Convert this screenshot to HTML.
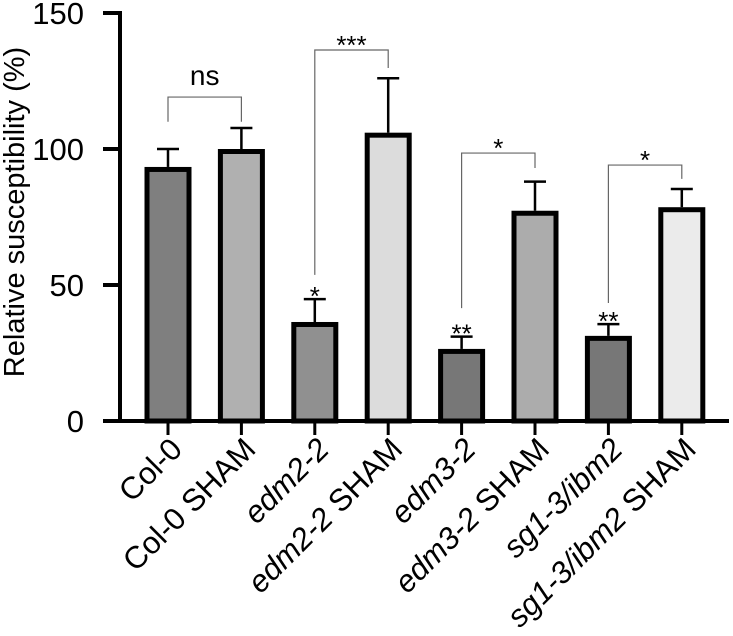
<!DOCTYPE html>
<html><head><meta charset="utf-8"><style>
html,body{margin:0;padding:0;background:#fff;}
svg{display:block;font-family:"Liberation Sans",Arial,sans-serif;}
</style></head><body>
<svg id="chart" width="733" height="636" viewBox="0 0 733 636">
<g id="plot"></g>
</svg>
<script>
const categories = ["Col-0","Col-0 SHAM","edm2-2","edm2-2 SHAM","edm3-2","edm3-2 SHAM","sg1-3/ibm2","sg1-3/ibm2 SHAM"];
const italicCats = [false,false,true,true,true,true,true,true];
const means = [93.4,100,36.4,106,26.5,77.3,31.3,78.6];
const errors = [6.6,7.7,8.4,20,4.5,10.7,4.3,6.7];
const fills = ["#7f7f7f","#b0b0b0","#909090","#dcdcdc","#777777","#acacac","#777777","#ebebeb"];
const yTicks = [0,50,100,150];
const barStars = [null,null,"*",null,"**",null,"**",null];
const bracketPairs = [[0,1],[2,3],[4,5],[6,7]];
const bracketLabels = ["ns","***","*","*"];
const bracketTops = [119.1,136.4,98.5,94.1];
const bracketLeftEnds = [110,53.7,41.5,43.4];
const bracketRightEnds = [110,129.8,93,89];

const NS="http://www.w3.org/2000/svg";
const g=document.getElementById('plot');
const y0=421, pxPerUnit=136/50;
const yS=v=>y0-v*pxPerUnit;
const xS=i=>168+73.4*i;
function mk(t,attrs,parent){const e=document.createElementNS(NS,t);for(const k in attrs)e.setAttribute(k,attrs[k]);(parent||g).appendChild(e);return e;}

means.forEach((m,i)=>{
  const cx=xS(i), w=42;
  const eb=mk('line',{x1:cx,x2:cx,y1:yS(m),y2:yS(m+errors[i]),stroke:'#000','stroke-width':2.5});
  
  
  const cap=mk('line',{x1:cx-11,x2:cx+11,y1:yS(m+errors[i]),y2:yS(m+errors[i]),stroke:'#000','stroke-width':2.5});
  
  
  const r=mk('rect',{x:cx-w/2,y:yS(m)+2.5,width:w,height:y0-yS(m)-2.5,fill:fills[i],stroke:'#000','stroke-width':5});
  
  
  if(barStars[i]){
    const s=mk('text',{x:cx,y:yS(m+errors[i])+6,'text-anchor':'middle','font-size':26,fill:'#000'});
    s.textContent=barStars[i];
    
    
  }
});

bracketPairs.forEach((pr,k)=>{
  const xa=xS(pr[0]), xb=xS(pr[1]), yt=yS(bracketTops[k]);
  const p=mk('path',{d:`M${xa},${yS(bracketLeftEnds[k])}V${yt}H${xb}V${yS(bracketRightEnds[k])}`,fill:'none',stroke:'#666','stroke-width':1.2});
  
  
  const isNs=bracketLabels[k]==='ns';
  const t=mk('text',{x:(xa+xb)/2,y:isNs?yt-12:yt+4,'text-anchor':'middle','font-size':isNs?28:26,fill:'#000'});
  t.textContent=bracketLabels[k];
  
  
});

const ya=mk('line',{x1:120,x2:120,y1:yS(150)-2,y2:y0+2,stroke:'#000','stroke-width':4});


const xa=mk('line',{x1:118,x2:729,y1:y0,y2:y0,stroke:'#000','stroke-width':4});


yTicks.forEach(v=>{
  const tl=mk('line',{x1:103,x2:120,y1:yS(v),y2:yS(v),stroke:'#000','stroke-width':4});
  
  
  const tt=mk('text',{x:84,y:yS(v)+11,'text-anchor':'end','font-size':31,fill:'#000'});
  tt.textContent=v;
  
  
});
categories.forEach((c,i)=>{
  const cx=xS(i);
  const tl=mk('line',{x1:cx,x2:cx,y1:y0,y2:y0+14,stroke:'#000','stroke-width':3});
  
  
  const t=mk('text',{x:0,y:0,'text-anchor':'end','font-size':31,fill:'#000',transform:`translate(${cx+16},${y0+30}) rotate(-45)`});
  if(italicCats[i]){
    const parts=c.split(' ');
    const ts=mk('tspan',{'font-style':'italic'},t); ts.textContent=parts[0];
    if(parts[1]){const t2=mk('tspan',{},t); t2.textContent=' '+parts[1];}
  } else t.textContent=c;
  
  
});
const yt=mk('text',{x:0,y:0,'text-anchor':'middle','font-size':29,fill:'#000',transform:'translate(24,212) rotate(-90)'});
yt.textContent='Relative susceptibility (%)';


</script>
</body></html>
